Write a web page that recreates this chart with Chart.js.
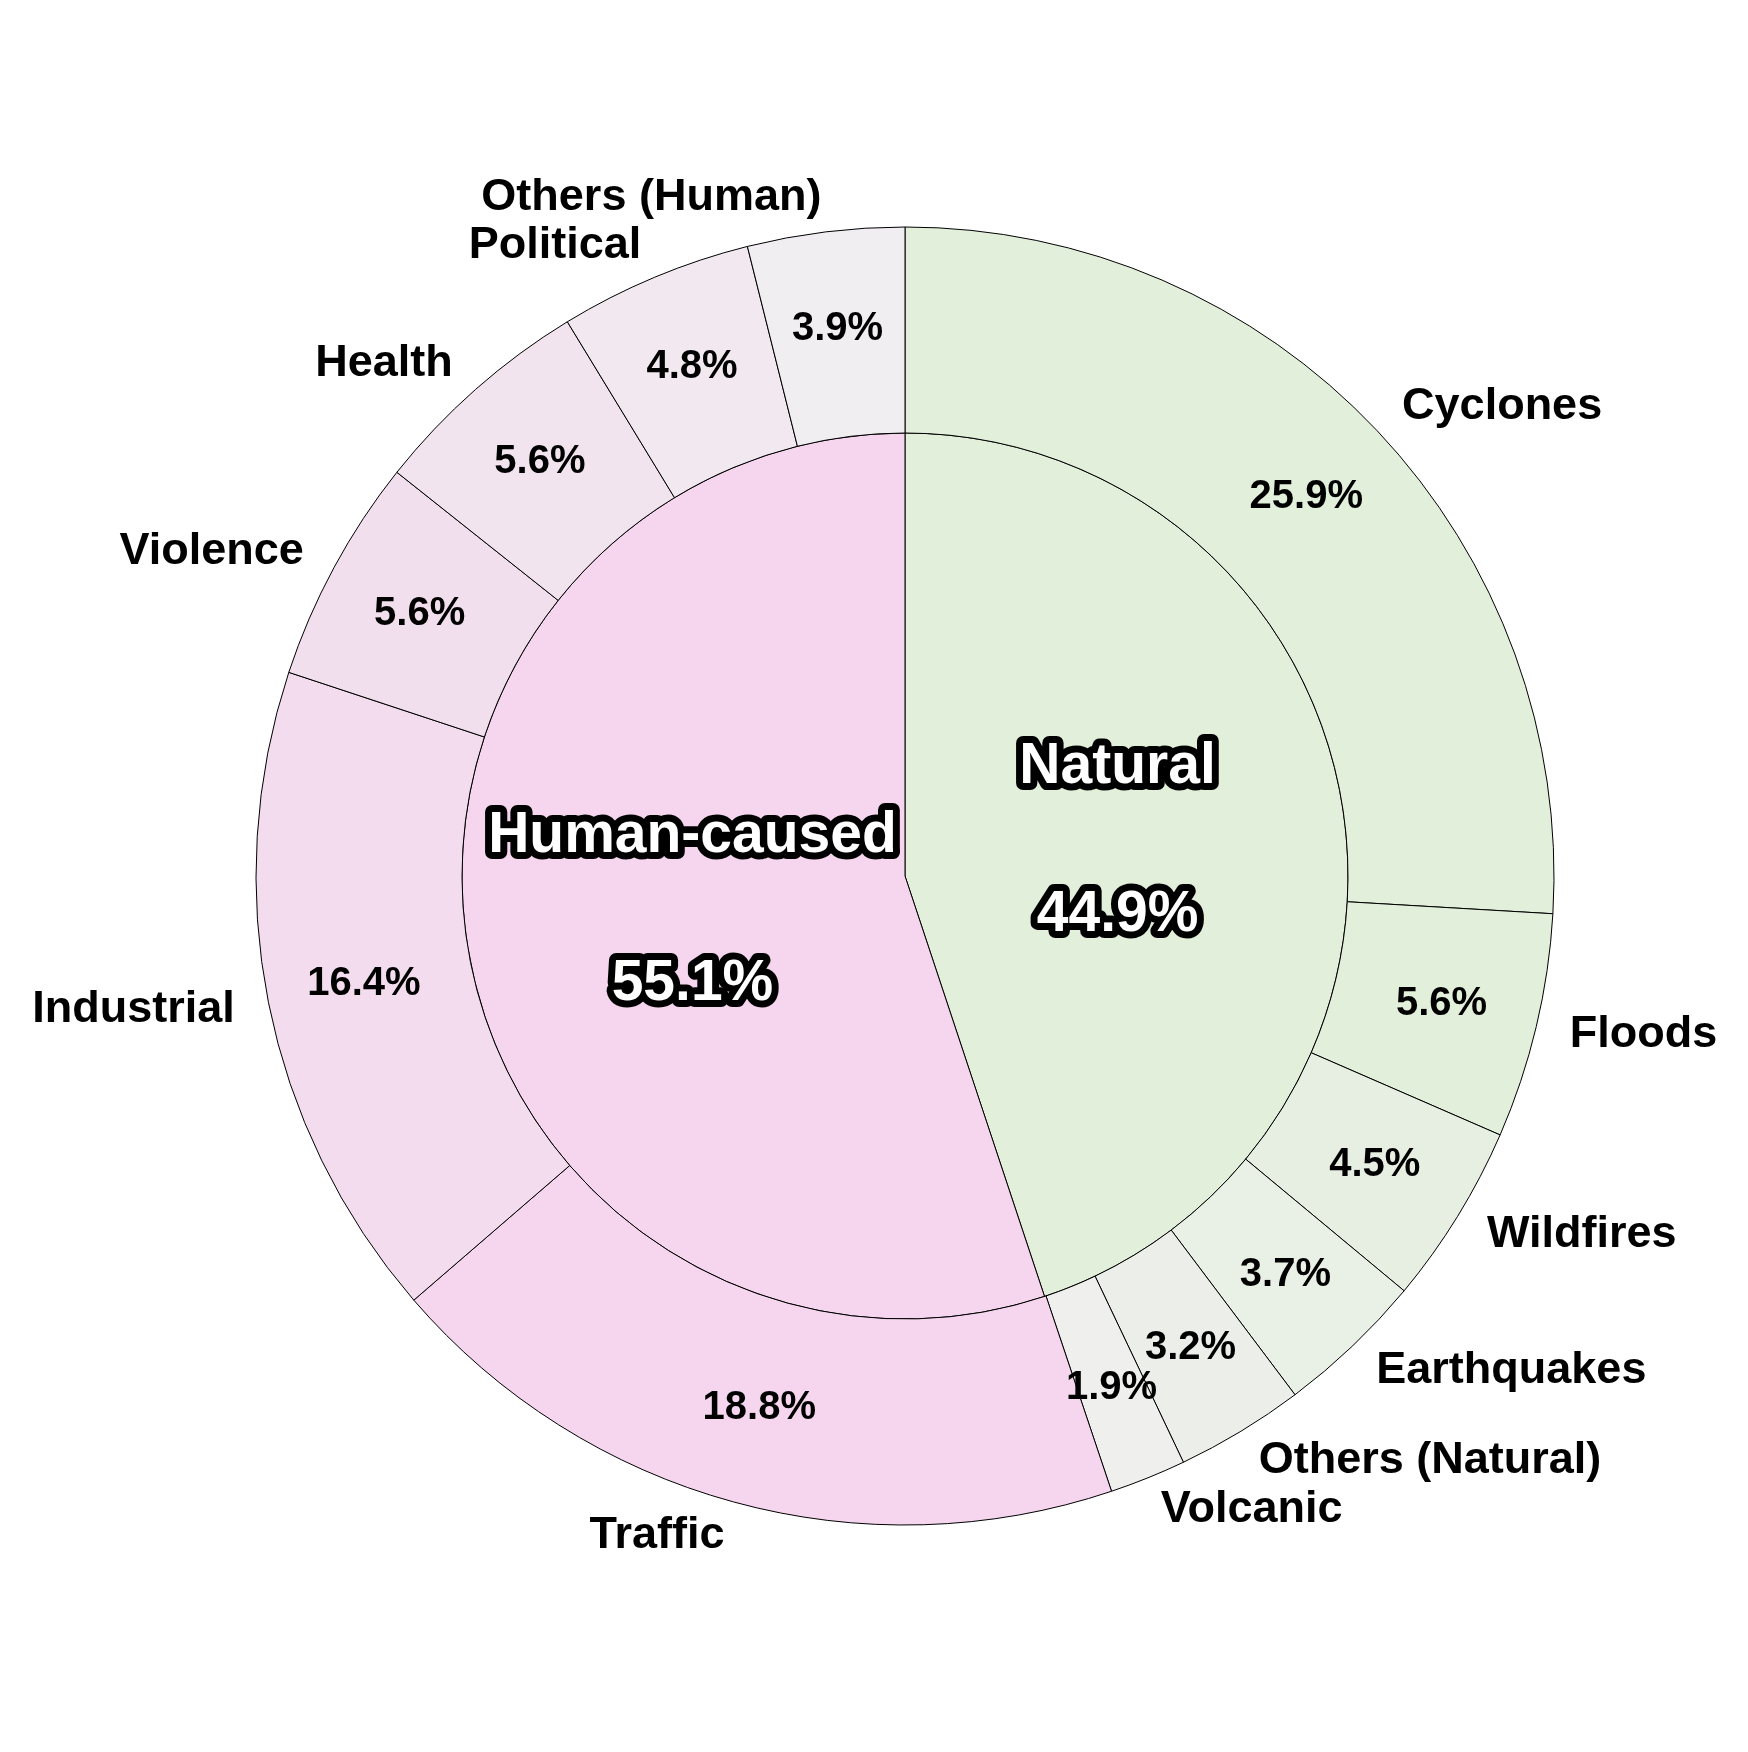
<!DOCTYPE html>
<html>
<head>
<meta charset="utf-8">
<script src="https://cdn.jsdelivr.net/npm/chart.js@4.4.1/dist/chart.umd.min.js"></script>
<style>
  html, body { margin: 0; padding: 0; background: #ffffff; }
  #wrap { width: 1748px; height: 1752px; }
</style>
</head>
<body>
<div id="wrap"><canvas id="chart" width="1748" height="1752"></canvas></div>
<script>
// data
const groupLabels = ["Natural", "Human-caused"];
const groupValues = [44.9, 55.1];

const subLabels = [
  "Cyclones", "Floods", "Wildfires", "Earthquakes", "Others (Natural)", "Volcanic",
  "Traffic", "Industrial", "Violence", "Health", "Political", "Others (Human)"
];
const subValues = [25.9, 5.6, 4.5, 3.7, 3.2, 1.9, 18.8, 16.4, 5.6, 5.6, 4.8, 3.9];

// colours
const groupColors = ["#e2efda", "#f5d6ee"];
const subColors = [
  "#e2efda", "#e2efda", "#e6efe2", "#e9f0e6", "#ecefe9", "#efefee",
  "#f5d6ee", "#f2dcee", "#f2dfee", "#f2e4ef", "#f2e9f0", "#f1eef2"
];

const FONT = '"Liberation Sans", Arial, sans-serif';

// =========================
// LABELS
// =========================
const labelPlugin = {
  id: "pieLabels",
  afterDatasetsDraw(chart) {
    const ctx = chart.ctx;
    ctx.save();

    // outer ring: percentages inside, names outside
    const outer = chart.getDatasetMeta(0);
    outer.data.forEach((arc, i) => {
      const mid = (arc.startAngle + arc.endAngle) / 2;
      const R = arc.outerRadius;
      const cx = arc.x, cy = arc.y;

      ctx.fillStyle = "#000";
      ctx.textBaseline = "middle";

      ctx.font = "bold 40px " + FONT;
      ctx.textAlign = "center";
      const pr = R * 0.85;
      ctx.fillText(subValues[i].toFixed(1) + "%", cx + Math.cos(mid) * pr, cy + Math.sin(mid) * pr);

      ctx.font = "bold 45px " + FONT;
      const lr = R * 1.053;
      const lx = cx + Math.cos(mid) * lr;
      ctx.textAlign = lx > cx ? "left" : "right";
      ctx.fillText(subLabels[i], lx, cy + Math.sin(mid) * lr);
    });

    // inner pie: outlined white text
    const inner = chart.getDatasetMeta(1);
    inner.data.forEach((arc, i) => {
      const mid = (arc.startAngle + arc.endAngle) / 2;
      const r = arc.outerRadius * 0.486;
      const x = arc.x + Math.cos(mid) * r;
      const y = arc.y + Math.sin(mid) * r;
      const lines = [groupLabels[i], groupValues[i].toFixed(1) + "%"];
      const gap = 74;

      ctx.font = "bold 57px " + FONT;
      ctx.textAlign = "center";
      ctx.textBaseline = "middle";
      ctx.lineJoin = "round";
      ctx.lineWidth = 14;
      ctx.strokeStyle = "#000";
      ctx.fillStyle = "#fff";
      lines.forEach((t, k) => {
        const ty = y + (k === 0 ? -gap : gap);
        ctx.strokeText(t, x, ty);
        ctx.fillText(t, x, ty);
      });
    });

    ctx.restore();
  }
};

new Chart(document.getElementById("chart"), {
  type: "pie",
  data: {
    labels: subLabels,
    datasets: [
      {
        data: subValues,
        backgroundColor: subColors,
        borderColor: "#000",
        borderWidth: 1,
        weight: 206
      },
      {
        data: groupValues,
        backgroundColor: groupColors,
        borderColor: "#000",
        borderWidth: 1,
        weight: 443
      }
    ]
  },
  options: {
    responsive: false,
    animation: false,
    radius: 649,
    layout: { padding: { left: 200, right: 138, top: 150, bottom: 150 } },
    plugins: {
      legend: { display: false },
      tooltip: { enabled: false }
    }
  },
  plugins: [labelPlugin]
});
</script>
</body>
</html>
